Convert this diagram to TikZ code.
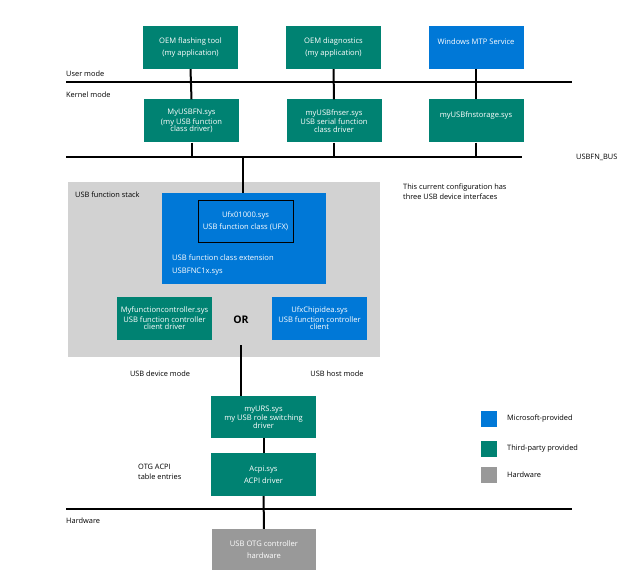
\documentclass[tikz,border=0pt]{standalone}
\usepackage{fontspec}
\setmainfont{Open Sans}
\usetikzlibrary{positioning}
\definecolor{msblue}{HTML}{0078D7}
\definecolor{oemgreen}{HTML}{008272}
\definecolor{hwgray}{HTML}{999999}
\definecolor{stackgray}{HTML}{D2D2D2}
\tikzset{
  box/.style={minimum width=95pt, minimum height=43pt, inner sep=1pt,
    align=center, text=white, font=\fontsize{7.6}{11.5}\selectfont},
  green box/.style={box, fill=oemgreen},
  blue box/.style={box, fill=msblue},
  bus/.style={line width=2.2pt},
  link/.style={line width=2pt},
  label/.style={font=\fontsize{7.4}{9.5}\selectfont, inner sep=0pt},
}
\begin{document}
\begin{tikzpicture}[x=1pt,y=-1pt]
  \useasboundingbox (0,0) rectangle (640,583);
  % stack background
  \fill [stackgray] (68,182) rectangle (380,357);
  \node [label, anchor=north west] (stack) at (75,192) {USB function stack};

  % user mode
  \node [green box] (flash) at (190.5,47.5) {OEM flashing tool\\(my application)};
  \node [green box] (diag) at (333.5,47.5) {OEM diagnostics\\(my application)};
  \node [blue box, text depth=12pt] (mtp) at (476,47.5) {Windows MTP Service};

  % kernel mode
  \node [green box] (fn) at (191.5,121) {MyUSBFN.sys\\[-2pt](my USB function\\[-4pt]class driver)};
  \node [green box] (ser) at (334,121) {myUSBfnser.sys\\[-2pt]USB serial function\\[-4pt]class driver};
  \node [green box, text depth=12pt] (stor) at (476,121) {myUSBfnstorage.sys};

  % bus lines
  \coordinate (um west) at (66,82);   \coordinate (um east) at (572,82);
  \coordinate (bus west) at (66,157); \coordinate (bus east) at (522,157);
  \coordinate (hw west) at (66,509);  \coordinate (hw east) at (572,509);
  \draw [bus] (um west) -- (um east);
  \draw [bus] (bus west) -- (bus east);
  \draw [bus] (hw west) -- (hw east);
  \node [label, anchor=south west] (user) at (66,77) {User mode};
  \node [label, anchor=north west] (kernel) at (66,92) {Kernel mode};
  \node [label, anchor=west] (busname) at (576,157) {USBFN\_BUS};
  \node [label, anchor=north west] (hw) at (66,518) {Hardware};

  \foreach \a/\b in {flash/fn, diag/ser, mtp/stor} {
    \draw [link] (\a.south) -- (\b.north);
    \draw [link] (\b.south) -- (\b.south |- bus east);
  }

  % function stack
  \node [blue box, minimum width=164pt, minimum height=91pt] (ufx) at (244,238.5) {};
  \node [draw=black, line width=1pt, minimum width=95pt, minimum height=42pt,
    align=center, text=white, font=\fontsize{7.6}{12}\selectfont] (class) at (245.5,221)
    {Ufx01000.sys\\USB function class (UFX)};
  \node [label, text=white, align=left, anchor=north west, font=\fontsize{7.6}{13}\selectfont]
    (ext) at (172,254) {USB function class extension\\USBFNC1x.sys};
  \coordinate (bus tap) at (243,157);
  \draw [link] (bus tap) -- (bus tap |- ufx.north);
  \node [green box] (ctrl) at (164.5,318.5) {Myfunctioncontroller.sys\\[-2pt]USB function controller\\[-4pt]client driver};
  \node [blue box] (chip) at (319.5,318.5) {UfxChipidea.sys\\[-2pt]USB function controller\\[-4pt]client};
  \node [font=\fontsize{10.5}{12}\selectfont\bfseries, inner sep=0pt] (or) at (241,320) {OR};
  \node [label, anchor=north west, align=left] (config) at (403,184)
    {This current configuration has\\three USB device interfaces};

  % role switching
  \node [green box, minimum width=105pt, minimum height=42pt] (urs) at (263.5,417)
    {myURS.sys\\[-2pt]my USB role switching\\[-4pt]driver};
  \node [green box, minimum width=105pt] (acpi) at (263.5,474.5) {Acpi.sys\\ACPI driver};
  \node [box, fill=hwgray, minimum width=104pt, minimum height=41pt] (otg) at (264,549.5)
    {USB OTG controller\\hardware};
  \coordinate (or tap) at (241,345);
  \draw [link] (or tap) -- (or tap |- urs.north);
  \draw [link] (urs) -- (acpi);
  \draw [link] (acpi) -- (otg);
  \node [label] (device) at (160,374) {USB device mode};
  \node [label] (host) at (337,374) {USB host mode};
  \node [label, align=left, anchor=west] (table) at (138,472) {OTG ACPI\\table entries};

  % legend
  \fill [msblue] (481,411) rectangle (497,427);
  \fill [oemgreen] (481,441) rectangle (497,457);
  \fill [hwgray] (481,467) rectangle (497,483);
  \node [label, anchor=west] (ms) at (507,419) {Microsoft-provided};
  \node [label, anchor=west] (third) at (507,449) {Third-party provided};
  \node [label, anchor=west] (hwkey) at (507,475) {Hardware};
\end{tikzpicture}
\end{document}
